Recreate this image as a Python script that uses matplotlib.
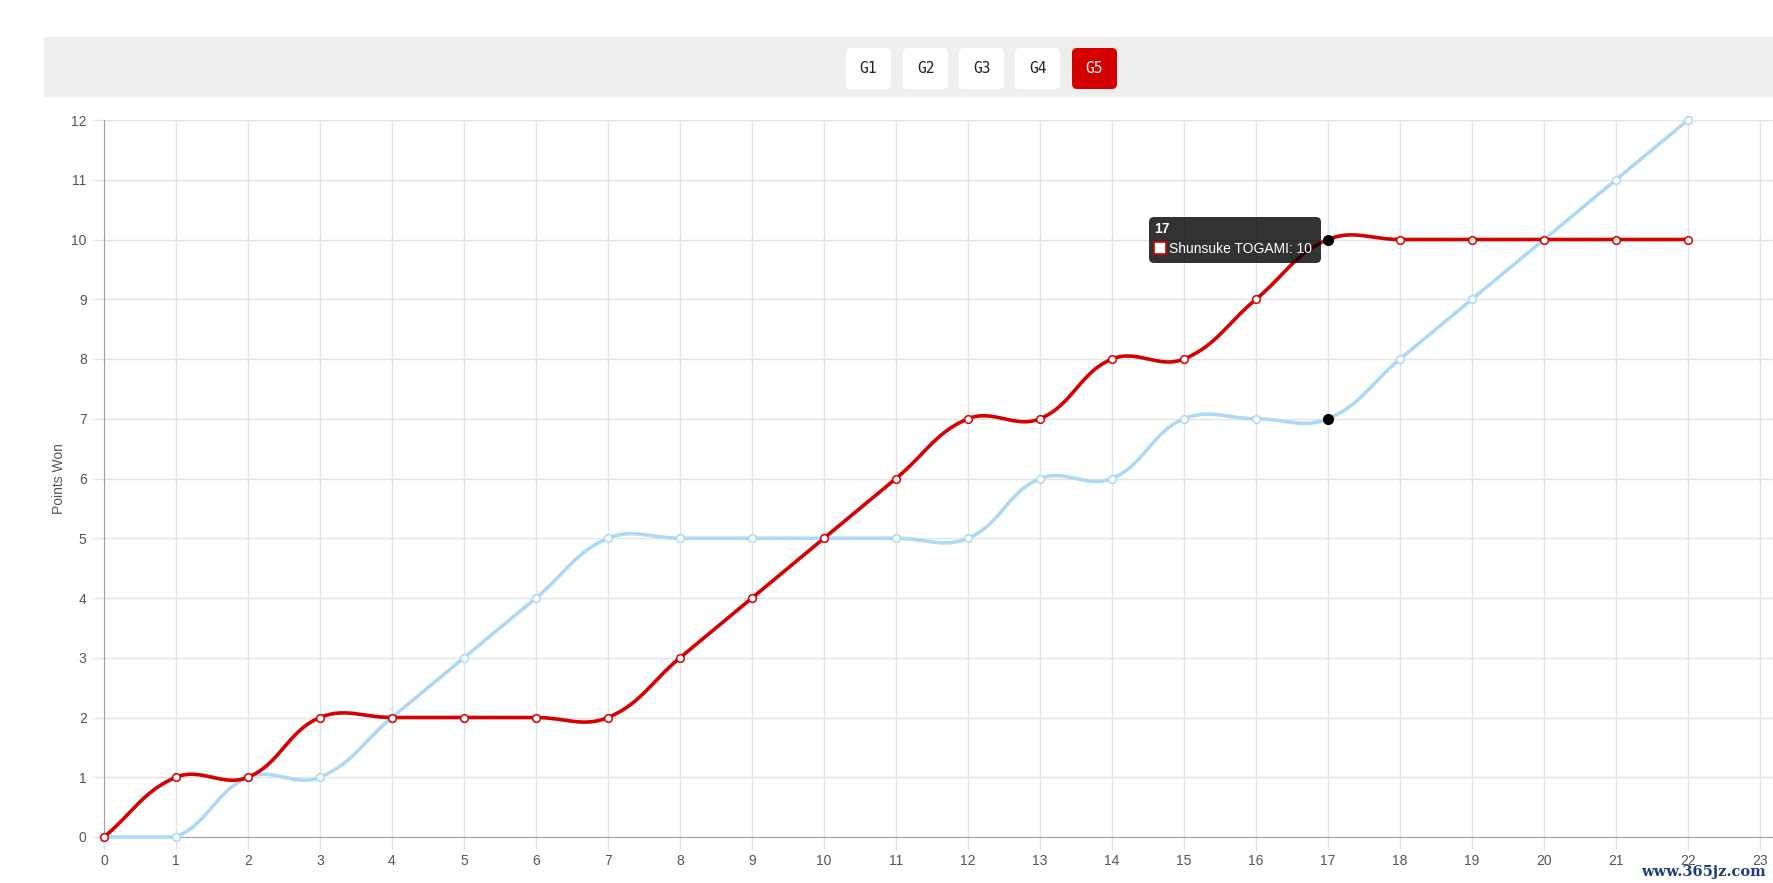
import numpy as np
import matplotlib
matplotlib.use("Agg")
import matplotlib.pyplot as plt
from matplotlib.patches import FancyBboxPatch, Rectangle

# data
games = list(range(23))
togami = [0, 1, 1, 2, 2, 2, 2, 2, 3, 4, 5, 6, 7, 7, 8, 8, 9, 10, 10, 10, 10, 10, 10]
opponent = [0, 0, 1, 1, 2, 3, 4, 5, 5, 5, 5, 5, 5, 6, 6, 7, 7, 7, 8, 9, 10, 11, 12]
buttons = ["G1", "G2", "G3", "G4", "G5"]
hover_x = 17
tooltip_title = "17"
tooltip_label = "Shunsuke TOGAMI: 10"
y_title = "Points Won"
watermark = "www.365jz.com"

W, H = 1773, 883
RED = "#d50000"
BLUE = "#acd9f6"
GRID = "#e3e3e3"
YMAX = 12

plt.rcParams['font.family'] = ['Liberation Sans', 'DejaVu Sans']


def spline(xs, ys, sx, sy, tension=0.4, n=30):
    # chart.js style bezier smoothing, done in pixel units
    px = np.array(xs, float) * sx
    py = np.array(ys, float) * sy
    cnt = len(px)
    c1 = np.zeros((cnt, 2))
    c2 = np.zeros((cnt, 2))
    for i in range(cnt):
        p0 = (px[max(i - 1, 0)], py[max(i - 1, 0)])
        p1 = (px[i], py[i])
        p2 = (px[min(i + 1, cnt - 1)], py[min(i + 1, cnt - 1)])
        d01 = np.hypot(p1[0] - p0[0], p1[1] - p0[1])
        d12 = np.hypot(p2[0] - p1[0], p2[1] - p1[1])
        tot = d01 + d12
        s01 = d01 / tot if tot else 0
        s12 = d12 / tot if tot else 0
        fa, fb = tension * s01, tension * s12
        c1[i] = (p1[0] - fa * (p2[0] - p0[0]), p1[1] - fa * (p2[1] - p0[1]))
        c2[i] = (p1[0] + fb * (p2[0] - p0[0]), p1[1] + fb * (p2[1] - p0[1]))
    # keep control points inside the chart area
    c1[:, 1] = np.clip(c1[:, 1], 0, YMAX * sy)
    c2[:, 1] = np.clip(c2[:, 1], 0, YMAX * sy)
    t = np.linspace(0, 1, n)[:, None]
    out = []
    for i in range(cnt - 1):
        a = np.array([px[i], py[i]])
        b = c2[i]
        c = c1[i + 1]
        d = np.array([px[i + 1], py[i + 1]])
        seg = (1 - t) ** 3 * a + 3 * (1 - t) ** 2 * t * b + 3 * (1 - t) * t ** 2 * c + t ** 3 * d
        out.append(seg if i == 0 else seg[1:])
    out = np.vstack(out)
    return out[:, 0] / sx, out[:, 1] / sy


fig = plt.figure(figsize=(W / 100, H / 100), dpi=100)

# top button bar
bar = fig.add_axes([0, 0, 1, 1], zorder=0)
bar.set_xlim(0, W)
bar.set_ylim(H, 0)
bar.axis("off")
bar.add_patch(Rectangle((44, 37), W - 44, 60, color="#eeeeee", lw=0))
bx = [846, 903, 959, 1015, 1072]
for i, lab in enumerate(buttons):
    active = i == len(buttons) - 1
    bar.add_patch(FancyBboxPatch((bx[i] + 4, 52), 37, 33, boxstyle="round,pad=4,rounding_size=5",
                                 fc=RED if active else "white", ec="none"))
    bar.text(bx[i] + 22.5, 68.5, lab, ha="center", va="center", fontsize=10.5,
             family="DejaVu Sans Mono", color="white" if active else "#222222")
bar.text(1766, 872, watermark, ha="right", va="center", fontsize=10.5, family="DejaVu Serif",
         color="#1d3d7a", fontweight="bold")

x0, x1 = 104, W
ytop, ybot = 120, 837
xmax = (x1 - x0) / 72.0
ax = fig.add_axes([x0 / W, (H - ybot) / H, (x1 - x0) / W, (ybot - ytop) / H], zorder=1)
ax.patch.set_alpha(0)
ax.set_xlim(0, xmax)
ax.set_ylim(0, YMAX)
sx, sy = 72.0, 717 / YMAX

bxs, bys = spline(games, opponent, sx, sy)
ax.plot(bxs, bys, color=BLUE, lw=2.6, solid_capstyle="round", zorder=3, clip_on=False)
ax.plot(games, opponent, "o", ms=5.5, mfc="white", mec=BLUE, mew=1.1, zorder=4, clip_on=False)
rxs, rys = spline(games, togami, sx, sy)
ax.plot(rxs, rys, color=RED, lw=2.6, solid_capstyle="round", zorder=5, clip_on=False)
ax.plot(games, togami, "o", ms=5.5, mfc="white", mec=RED, mew=1.1, zorder=6, clip_on=False)
ax.plot([hover_x, hover_x], [togami[hover_x], opponent[hover_x]], "o", ms=7, color="black",
        ls="none", zorder=7)

ax.set_xticks(range(24))
ax.set_yticks(range(YMAX + 1))
ax.grid(True, color=GRID, lw=1)
ax.set_axisbelow(True)
for s in ["top", "right"]:
    ax.spines[s].set_visible(False)
for s in ["left", "bottom"]:
    ax.spines[s].set_color("#a0a0a0")
ax.tick_params(axis="both", colors=GRID, labelcolor="#555555", labelsize=10, length=9, width=1)
ax.set_ylabel(y_title, fontsize=10, color="#555555", labelpad=4)

# tooltip
bar.add_patch(FancyBboxPatch((1152, 220), 166, 40, boxstyle="round,pad=3,rounding_size=5",
                             fc=(0, 0, 0, 0.8), ec="none", zorder=10))
bar.text(1154, 229, tooltip_title, ha="left", va="center", color="white", fontsize=10,
         fontweight="bold", zorder=11)
bar.add_patch(Rectangle((1154, 242), 12, 12, fc="white", ec=RED, lw=1.2, zorder=11))
bar.text(1169, 249, tooltip_label, ha="left", va="center", color="white", fontsize=10, zorder=11)
bar.set_zorder(2)
bar.patch.set_alpha(0)

fig.savefig("out.png", dpi=100)
